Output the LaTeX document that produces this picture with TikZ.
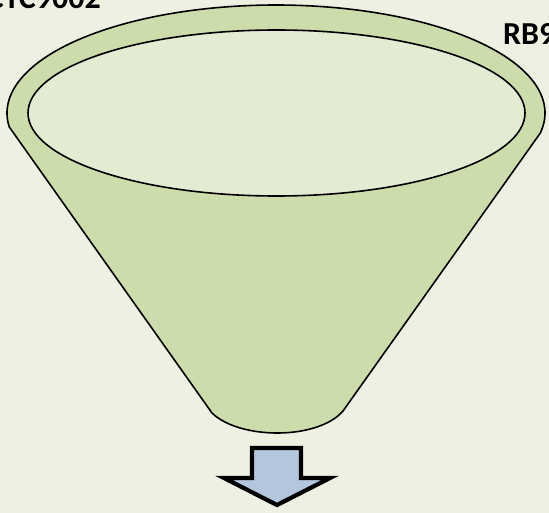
\documentclass[tikz,border=0pt]{standalone}
\usepackage{fontspec}
\setmainfont{Carlito}
\usetikzlibrary{shapes.geometric}
\definecolor{bgc}{HTML}{EEF1E2}
\definecolor{funnelc}{HTML}{CCDCAA}
\definecolor{innerc}{HTML}{E3EBD2}
\definecolor{arrowc}{HTML}{B4C5DE}
\begin{document}
\begin{tikzpicture}[x=1pt,y=-1pt,
  funnel/.style={fill=funnelc,draw=black,line width=1.6pt,line join=round},
  rim/.style={fill=innerc,draw=black,line width=1.6pt},
  bigarrow/.style={fill=arrowc,draw=black,line width=4.2pt,line join=miter},
  lbl/.style={font=\bfseries\fontsize{32}{32}\selectfont,inner sep=0pt}]
\fill[bgc] (0,0) rectangle (549,513);
\useasboundingbox (0,0) rectangle (549,513);
% funnel body with outer rim
\draw[funnel] plot[domain=172.55:370.67,samples=120,smooth] ({276+269*cos(\x)},{113+108*sin(\x)})
  -- (343,411) .. controls (318,440) and (240,440) .. (212,413) -- cycle;
% inner opening
\node[rim,ellipse,minimum width=497pt,minimum height=166pt,inner sep=0pt] (opening) at (276.5,113) {};
% arrow
\coordinate (a1) at (252,448);
\draw[bigarrow] (a1) -- (301,448) -- (301,478) -- (330,478) -- (277,505) -- (224,478) -- (252,478) -- cycle;
% labels
\node[lbl,anchor=base east] (l1) at (101,9) {CTC9002};
\node[lbl,anchor=base west] (l2) at (503,45) {RB9};
\end{tikzpicture}
\end{document}
